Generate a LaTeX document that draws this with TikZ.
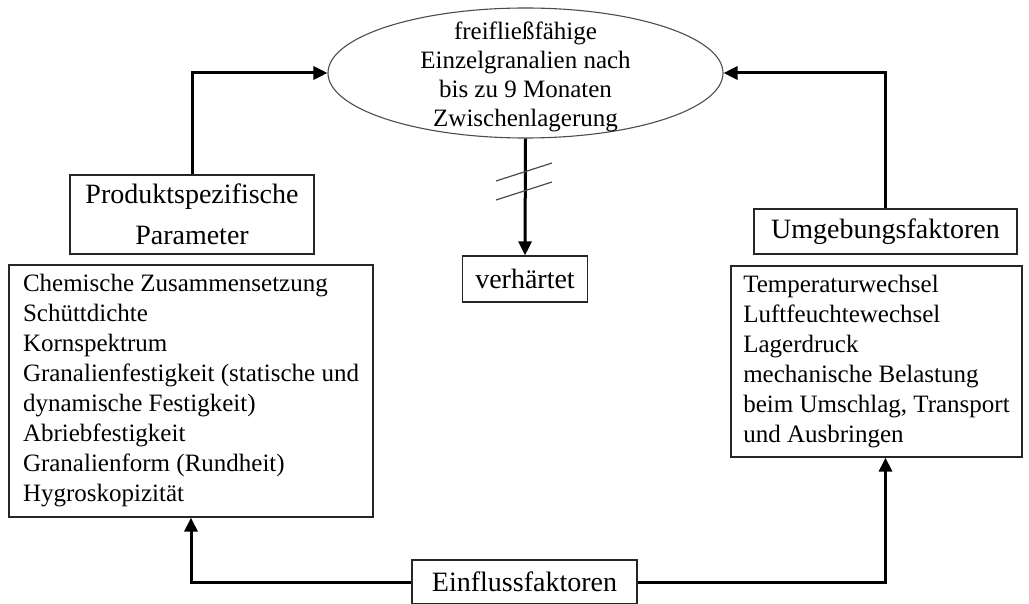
\documentclass[tikz,border=0pt]{standalone}
\usepackage{fontspec}
\setmainfont{Liberation Serif}
\usetikzlibrary{arrows.meta,shapes.geometric}
\begin{document}
\begin{tikzpicture}[x=1pt,y=-1pt,
  labelbox/.style={draw=black!85, line width=1.2pt, inner sep=0pt,
    font=\fontsize{28}{41}\selectfont, align=center},
  listbox/.style={draw=black!85, line width=1.2pt, inner sep=0pt,
    font=\fontsize{25}{30}\selectfont, align=left},
  flow/.style={line width=3pt, -{Triangle[length=14pt,width=13pt]}},
  slash/.style={draw=black!70, line width=1.2pt}]
\useasboundingbox (0,0) rectangle (1029,604);

% central ellipse and its text
\node (ell) [draw=black!70, line width=1.1pt, ellipse, inner sep=0pt,
  minimum width=395pt, minimum height=130pt] at (525.5,73) {};
\node (elltext) [align=center, font=\fontsize{25}{29}\selectfont] at (525.5,77)
  {freifließfähige\\Einzelgranalien nach\\bis zu 9 Monaten\\Zwischenlagerung};

% label boxes
\node (prod) [labelbox, minimum width=244pt, minimum height=79pt] at (192,214.5)
  {Produktspezifische\\Parameter};
\node (umg) [labelbox, minimum width=263pt, minimum height=45pt] at (885.5,231.5)
  {Umgebungsfaktoren};
\node (verh) [labelbox, minimum width=125pt, minimum height=46pt] at (525,279)
  {verhärtet};
\node (einfl) [labelbox, minimum width=225pt, minimum height=44pt] at (524.5,582)
  {Einflussfaktoren};

% lists of factors
\node (lbox) [listbox, minimum width=364pt, minimum height=252pt] at (191,391)
  {Chemische Zusammensetzung\\Schüttdichte\\Kornspektrum\\
   Granalienfestigkeit (statische und\\dynamische Festigkeit)\\
   Abriebfestigkeit\\Granalienform (Rundheit)\\Hygroskopizität};
\node (rbox) [listbox, minimum width=291pt, minimum height=191pt] at (876.5,361.5)
  {Temperaturwechsel\\Luftfeuchtewechsel\\Lagerdruck\\mechanische Belastung\\
   beim Umschlag, Transport\\und Ausbringen};

% connectors
\draw[flow] (prod.north) |- (ell.west);
\draw[flow] (umg.north) |- (ell.east);
\draw[flow] (ell.south) -- (verh.north);
\draw[flow] (einfl.west) -| (lbox.south);
\coordinate (rin) at (umg.south |- rbox.south);
\draw[flow] (einfl.east) -| (rin);

% strike marks on the downward arrow
\draw[slash] (496,181) -- (552,163);
\draw[slash] (496,200) -- (552,182);
\end{tikzpicture}
\end{document}
